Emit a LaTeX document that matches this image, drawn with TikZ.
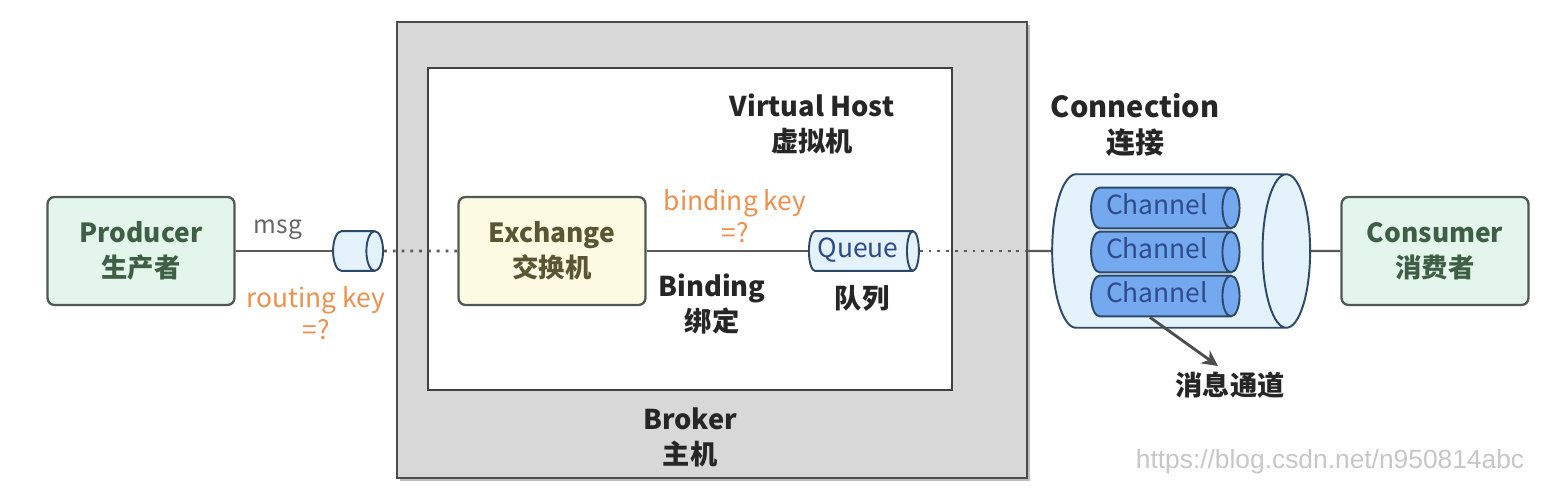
\documentclass[tikz,border=0pt]{standalone}
\usepackage{fontspec}
\setmainfont{Noto Sans CJK SC}
\newfontfamily\urlfont{Liberation Sans}
\usetikzlibrary{arrows.meta, positioning, shapes.geometric, shadows}
\definecolor{boxline}{HTML}{4F5852}
\definecolor{actorfill}{HTML}{E4F6EC}
\definecolor{actortext}{HTML}{3E5E46}
\definecolor{exfill}{HTML}{FCFAE2}
\definecolor{extext}{HTML}{5A5634}
\definecolor{keyorange}{HTML}{F0904A}
\definecolor{pipefill}{HTML}{E4F2FC}
\definecolor{pipetext}{HTML}{2E4A8A}
\definecolor{chanfill}{HTML}{74A9F0}
\definecolor{chanline}{HTML}{2E4868}
\definecolor{brokerfill}{HTML}{D8D8D8}
\tikzstyle{actor}=[rectangle, rounded corners=4pt, draw=boxline, fill=actorfill, text=actortext, line width=1.3pt, minimum width=3.74cm, minimum height=2.16cm, align=center, font=\bfseries\fontsize{15}{20}\selectfont]
\tikzstyle{switch}=[actor, fill=exfill, text=extext]
\tikzstyle{pipe}=[cylinder, aspect=0.35, draw=chanline, line width=1.1pt, cylinder uses custom fill, cylinder body fill=pipefill, cylinder end fill=pipefill, text=pipetext, font=\fontsize{15}{16}\selectfont, text height=10pt, text depth=3pt, inner xsep=1pt, inner ysep=4.8pt]
\tikzstyle{channel}=[pipe, aspect=0.42, cylinder body fill=chanfill, cylinder end fill=chanfill, inner ysep=5.1pt, minimum height=2.97cm]
\tikzstyle{title}=[align=center, text=black!85, font=\bfseries\fontsize{15.5}{20}\selectfont]
\tikzstyle{keylabel}=[align=center, text=keyorange, font=\fontsize{15}{18}\selectfont]
\tikzstyle{wire}=[draw=black!65, line width=1.3pt]
\tikzstyle{dots}=[draw=black!65, line width=1.6pt, dash pattern=on 1.6pt off 3.4pt]

\begin{document}
\begin{tikzpicture}[x=0.02cm, y=-0.02cm]
  \useasboundingbox (0,0) rectangle (1566,493);
  % broker and virtual host
  \node[rectangle, draw=black!70, line width=1.3pt, fill=brokerfill, minimum width=12.6cm, minimum height=9.12cm, drop shadow={opacity=0.5, shadow xshift=1.5pt, shadow yshift=-1.5pt}] (broker) at (712,250) {};
  \node[rectangle, draw=black!75, line width=1.3pt, fill=white, minimum width=10.48cm, minimum height=6.44cm] (vhost) at (690,229) {};
  \node[title] (vhlabel) at (812,124) {Virtual Host\\虚拟机};
  \node[title] (brlabel) at (690,437) {Broker\\主机};

  \node[actor] (producer) at (141,251) {Producer\\生产者};
  \node[pipe, aspect=0.42, minimum height=1cm] (msgq) at (350,251) {};
  \node[switch] (exchange) at (552,251) {Exchange\\交换机};
  \node[pipe, aspect=0.3, minimum height=2.2cm] (queue) at (858,251) {Queue};

  % connection with channels
  \node[title, font=\bfseries\fontsize{16.5}{21}\selectfont] (connlabel) at (1135,125) {Connection\\连接};
  \node[pipe, aspect=0.31, inner ysep=37.2pt, minimum height=5.16cm] (conn) at (1157,251) {};
  \foreach \i/\y in {1/208, 2/252, 3/296}
    \node[channel] (ch\i) at (1157,\y) {Channel};
  \node[actor] (consumer) at (1435,251) {Consumer\\消费者};

  \node[text=black!60, font=\fontsize{14}{16}\selectfont] (msglabel) at (278,230) {msg};
  \node[keylabel] (rkey) at (316,313) {routing key\\=?};
  \node[keylabel] (bkey) at (735,216) {binding key\\=?};
  \node[title] (binding) at (712,304) {Binding\\绑定};
  \node[title] (qlabel) at (862,298) {队列};
  \node[title] (chlabel) at (1230,385) {消息通道};
  \node[text=black!22, font=\urlfont\fontsize{15}{18}\selectfont] (mark) at (1330,462) {https://blog.csdn.net/n950814abc};

  \coordinate (qcut) at (broker.east |- queue.east);
  \coordinate (chtip) at (1218,366);
  \draw[wire] (producer) -- (msgq);
  \draw[dots] (msgq) -- (exchange);
  \draw[wire] (exchange) -- (queue);
  \draw[dots] (queue) -- (qcut);
  \draw[wire] (qcut) -- (conn);
  \draw[wire] (conn) -- (consumer);
  \draw[draw=black!70, line width=1.6pt, -{Stealth[length=9pt, width=9pt]}] ([xshift=-0.14cm]ch3.south) -- (chtip);
\end{tikzpicture}
\end{document}
